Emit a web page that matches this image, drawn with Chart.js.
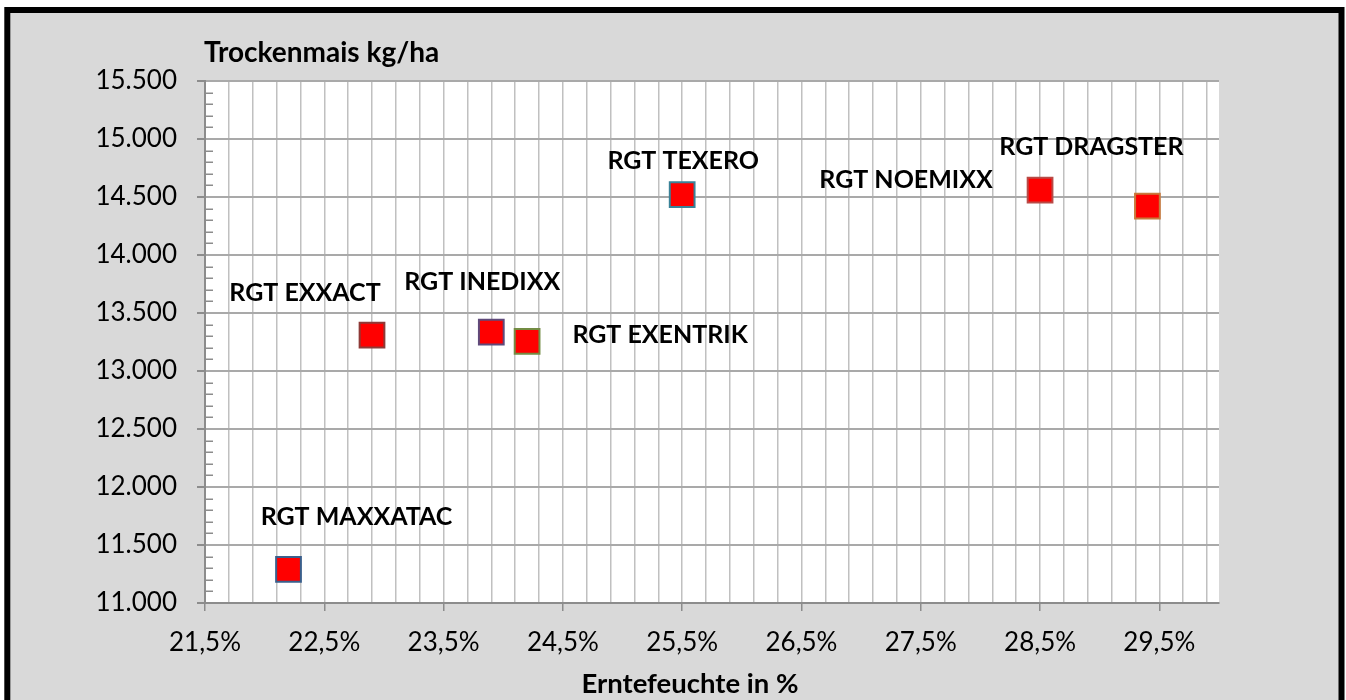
<!DOCTYPE html>
<html><head><meta charset="utf-8">
<script src="https://cdn.jsdelivr.net/npm/chart.js@4.4.1/dist/chart.umd.min.js"></script>
<style>html,body{margin:0;padding:0;background:#fff;overflow:hidden}
#wrap{position:absolute;left:0;top:0;width:1346px;height:700px}</style>
</head><body><div id="wrap"><canvas id="c" width="1346" height="700"></canvas></div>
<script>
// ---- data ----
const varieties = ['RGT MAXXATAC','RGT EXXACT','RGT INEDIXX','RGT EXENTRIK','RGT TEXERO','RGT NOEMIXX','RGT DRAGSTER'];
const harvestMoisture = [22.2, 22.9, 23.9, 24.2, 25.5, 28.5, 29.4];
const dryYield = [11290, 13310, 13335, 13256, 14520, 14560, 14422];
const xTickLabels = ['21,5%','22,5%','23,5%','24,5%','25,5%','26,5%','27,5%','28,5%','29,5%'];
const yTickLabels = ['11.000','11.500','12.000','12.500','13.000','13.500','14.000','14.500','15.000','15.500'];
const yAxisTitle = 'Trockenmais kg/ha';
const xAxisTitle = 'Erntefeuchte in %';

// ---- styles ----
const markerBorders = ['#3a5f8c','#8e3a37','#5f4a7b','#738c43','#3a8298','#b94a46','#c87a3c'];
const labelOffsets = [[68,-52],[-67,-42],[-9,-50],[133,-6],[1,-34],[-134,-10],[-56,-59]];
const FONT = 'Lato';
const AXIS = '#8c8c8c';

function xMajorIndex(v){ const k = v - 21.5; const r = Math.round(k); return Math.abs(k - r) < 1e-6 ? r : -1; }

const frame = {
  id:'frame',
  beforeDraw(chart){
    const ctx = chart.ctx, a = chart.chartArea;
    ctx.save();
    ctx.fillStyle = '#fff'; ctx.fillRect(0,0,chart.width,chart.height);
    ctx.fillStyle = '#d9d9d9'; ctx.fillRect(7,10,1334.5,760);
    ctx.strokeStyle = '#000'; ctx.lineWidth = 6; ctx.strokeRect(7.3,10,1334.2,760);
    ctx.fillStyle = '#fff'; ctx.fillRect(a.left, a.top, a.right - a.left, a.bottom - a.top);
    ctx.restore();
  },
  afterDraw(chart){
    const ctx = chart.ctx, ys = chart.scales.y, a = chart.chartArea;
    ctx.save();
    ctx.strokeStyle = AXIS; ctx.lineWidth = 1.5;
    for (let v = ys.min + 100; v < ys.max; v += 100) {
      if (v % 500 === 0) continue;
      const y = Math.round(ys.getPixelForValue(v)) + 0.25;
      ctx.beginPath(); ctx.moveTo(a.left, y); ctx.lineTo(a.left + 8, y); ctx.stroke();
    }
    ctx.fillStyle = '#000';
    ctx.font = 'bold 28px ' + FONT;
    ctx.textAlign = 'left'; ctx.textBaseline = 'alphabetic';
    ctx.fillText(yAxisTitle, a.left - 1, 62);
    ctx.font = 'bold 27.5px ' + FONT;
    ctx.textAlign = 'center';
    ctx.fillText(xAxisTitle, 690, 693);
    ctx.restore();
  },
  afterDatasetsDraw(chart){
    const ctx = chart.ctx, meta = chart.getDatasetMeta(0);
    ctx.save();
    ctx.fillStyle = '#000';
    ctx.font = 'bold 25px ' + FONT;
    ctx.textAlign = 'center'; ctx.textBaseline = 'middle';
    meta.data.forEach((pt, i) => {
      ctx.fillText(varieties[i], pt.x + labelOffsets[i][0], pt.y + labelOffsets[i][1]);
    });
    ctx.restore();
  }
};

new Chart(document.getElementById('c'), {
  type:'scatter',
  data:{
    labels: varieties,
    datasets:[{
      data: harvestMoisture.map((x,i) => ({x, y: dryYield[i]})),
      pointStyle:'rect',
      pointRadius:17.5,
      pointBorderWidth:2,
      pointBackgroundColor:'#ff0000',
      pointBorderColor: markerBorders
    }]
  },
  options:{
    responsive:false,
    animation:false,
    events:[],
    layout:{ padding:{ left:0, top:81, right:127, bottom:0 } },
    plugins:{ legend:{display:false}, tooltip:{enabled:false}, title:{display:false} },
    scales:{
      x:{
        type:'linear', min:21.5, max:30,
        afterBuildTicks(s){ const t=[]; for(let k=0;k<=42;k++) t.push({value: Math.round((21.5+0.2*k)*10)/10}); s.ticks=t; },
        afterFit(s){ s.height = 97; },
        grid:{ color:'#c0c0c0', lineWidth:1.5, tickLength:8,
               tickColor: c => (c.tick && xMajorIndex(c.tick.value) >= 0) ? AXIS : 'rgba(0,0,0,0)' },
        border:{ color:AXIS, width:2 },
        ticks:{ autoSkip:false, maxRotation:0, padding:16, color:'#000', font:{family:FONT, size:26},
                callback: v => { const i = xMajorIndex(v); return i >= 0 ? xTickLabels[i] : ''; } }
      },
      y:{
        type:'linear', min:11000, max:15500,
        afterFit(s){ s.width = 205; },
        grid:{ color:'#a9a9a9', lineWidth:2, tickLength:8, tickColor:AXIS },
        border:{ color:AXIS, width:2 },
        ticks:{ stepSize:500, padding:20, color:'#000', font:{family:FONT, size:26},
                callback: v => yTickLabels[Math.round((v - 11000) / 500)] }
      }
    }
  },
  plugins:[frame]
});
</script></body></html>
